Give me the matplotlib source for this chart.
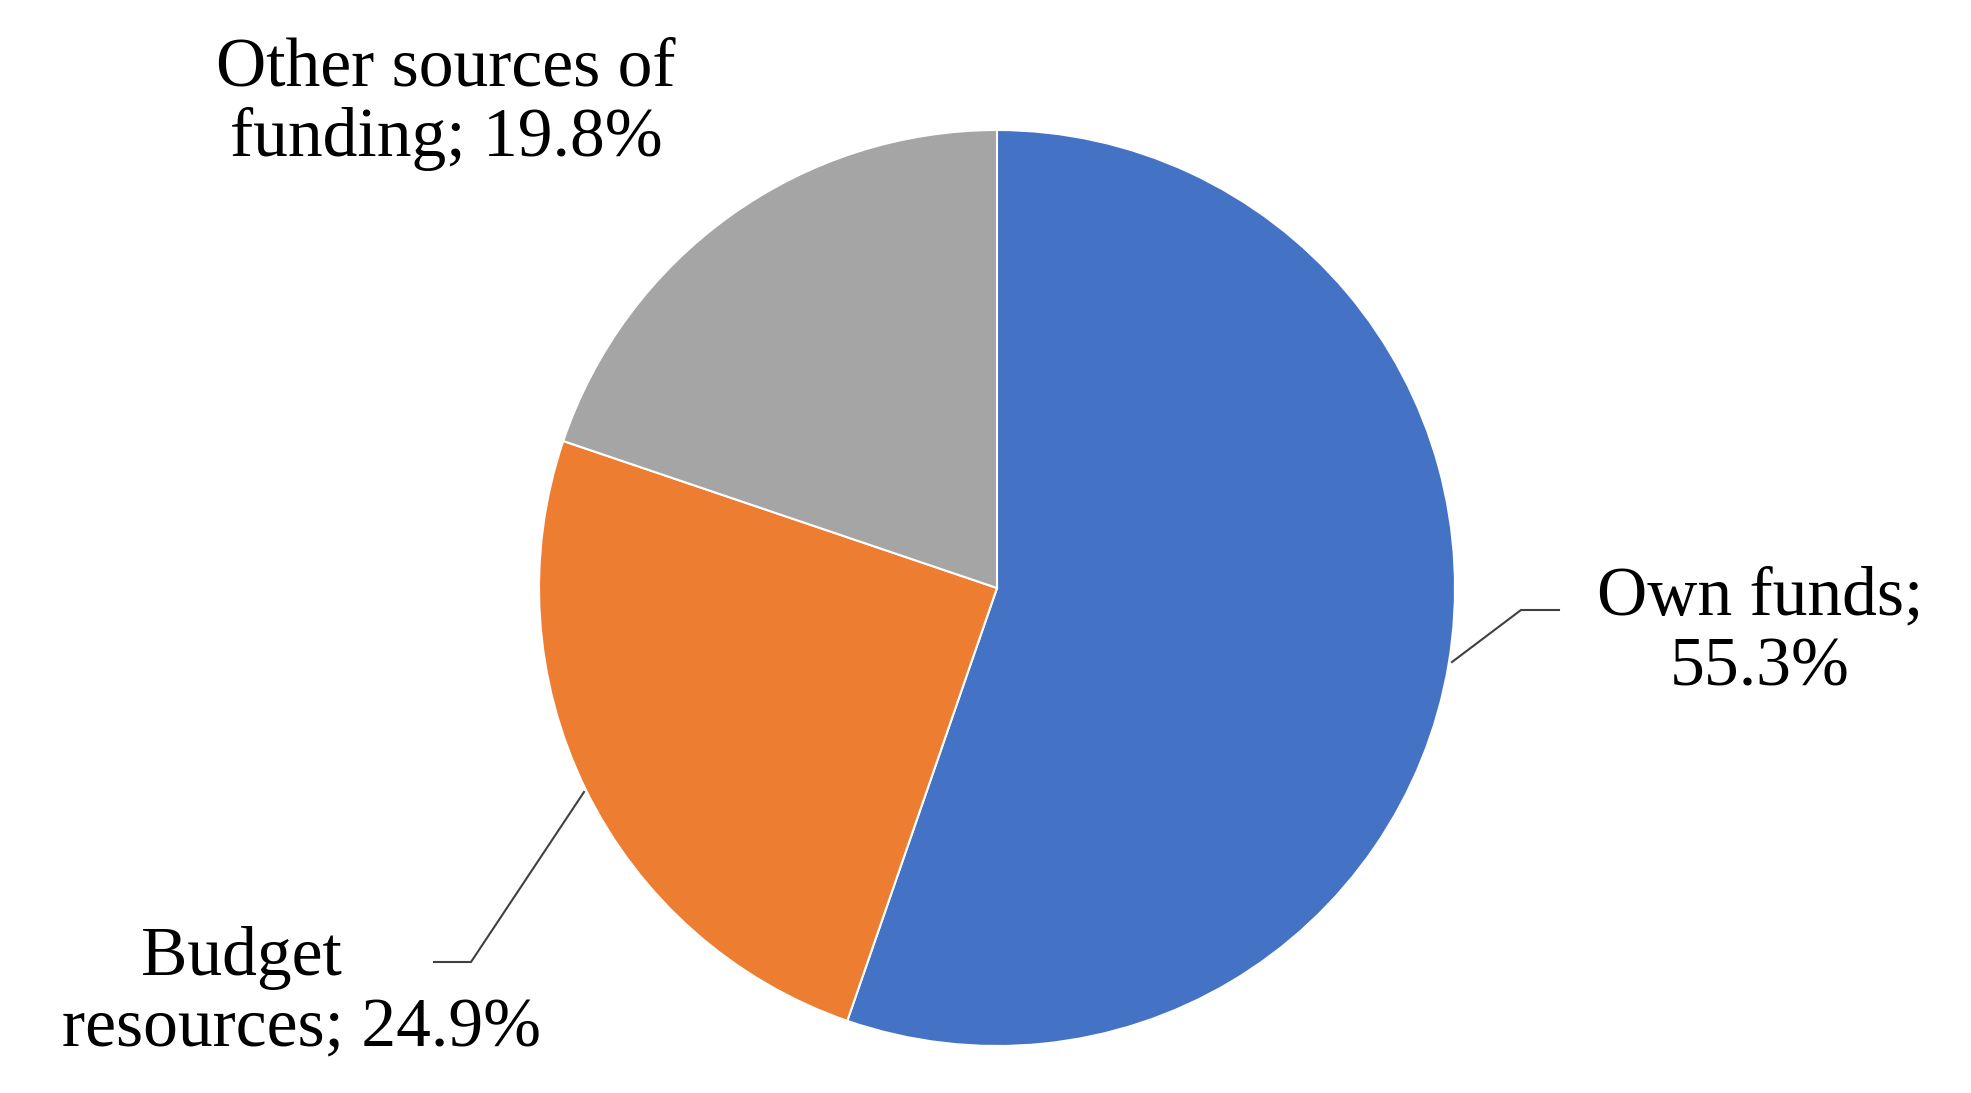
import matplotlib
matplotlib.use("Agg")
import matplotlib.pyplot as plt

labels = ["Own funds", "Budget\nresources", "Other sources of\nfunding"]
values = [55.3, 24.9, 19.8]
colors = ["#4472C4", "#ED7D31", "#A5A5A5"]

W, H = 1971, 1093
fig = plt.figure(figsize=(W/100, H/100), dpi=100)
ax = fig.add_axes([0, 0, 1, 1])
ax.set_xlim(0, W); ax.set_ylim(0, H); ax.set_aspect("equal"); ax.axis("off")

cx, cy, r = 997, 505, 458
ax.pie(values, colors=colors, startangle=90, counterclock=False, radius=r,
       center=(cx, cy), wedgeprops=dict(edgecolor="white", linewidth=1.5), frame=True)
ax.set_xlim(0, W); ax.set_ylim(0, H); ax.axis("off")

font = dict(family="Liberation Serif", fontsize=50, color="black", ha="center", va="center", linespacing=1.15)
ax.text(1760, 460, f"Own funds;\n{values[0]}%", **font)
ax.text(302, 100, f"Budget       \nresources; {values[1]}%", **font)
ax.text(446, 989, f"Other sources of\nfunding; {values[2]}%", **font)

ax.plot([1452, 1521, 1559], [H-662, H-610, H-610], color="#404040", lw=1.5)
ax.plot([584, 471, 434], [H-792, H-962, H-962], color="#404040", lw=1.5)

fig.savefig("out.png", dpi=100)
